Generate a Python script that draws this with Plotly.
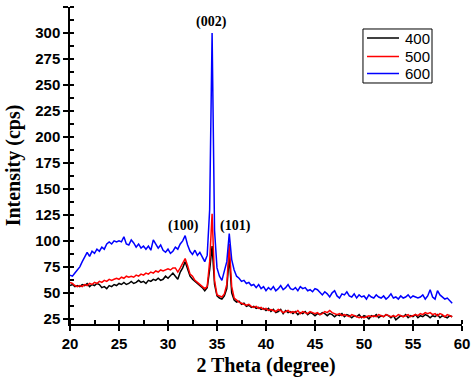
import plotly.graph_objects as go

two_theta = [
    20.00, 20.25, 20.50, 20.75, 21.00, 21.25, 21.50, 21.75, 22.00, 22.25, 22.50, 22.75,
    23.00, 23.25, 23.50, 23.75, 24.00, 24.25, 24.50, 24.75, 25.00, 25.25, 25.50, 25.75,
    26.00, 26.25, 26.50, 26.75, 27.00, 27.25, 27.50, 27.75, 28.00, 28.25, 28.50, 28.75,
    29.00, 29.25, 29.50, 29.75, 30.00, 30.25, 30.50, 30.75, 31.00, 31.25, 31.50, 31.75,
    32.00, 32.25, 32.50, 32.75, 33.00, 33.25, 33.50, 33.75, 34.00, 34.25, 34.50, 34.75,
    35.00, 35.25, 35.50, 35.75, 36.00, 36.25, 36.50, 36.75, 37.00, 37.25, 37.50, 37.75,
    38.00, 38.25, 38.50, 38.75, 39.00, 39.25, 39.50, 39.75, 40.00, 40.25, 40.50, 40.75,
    41.00, 41.25, 41.50, 41.75, 42.00, 42.25, 42.50, 42.75, 43.00, 43.25, 43.50, 43.75,
    44.00, 44.25, 44.50, 44.75, 45.00, 45.25, 45.50, 45.75, 46.00, 46.25, 46.50, 46.75,
    47.00, 47.25, 47.50, 47.75, 48.00, 48.25, 48.50, 48.75, 49.00, 49.25, 49.50, 49.75,
    50.00, 50.25, 50.50, 50.75, 51.00, 51.25, 51.50, 51.75, 52.00, 52.25, 52.50, 52.75,
    53.00, 53.25, 53.50, 53.75, 54.00, 54.25, 54.50, 54.75, 55.00, 55.25, 55.50, 55.75,
    56.00, 56.25, 56.50, 56.75, 57.00, 57.25, 57.50, 57.75, 58.00, 58.25, 58.50, 58.75,
    59.00,
]

intensity_400 = [
    57, 58, 56, 57, 56, 58, 57, 59, 56, 58, 57, 59,
    58, 55, 56, 54, 57, 56, 58, 57, 59, 58, 60, 58,
    59, 61, 59, 60, 62, 60, 61, 59, 62, 61, 63, 62,
    64, 62, 63, 66, 64, 67, 69, 66, 63, 70, 74, 80,
    73, 66, 63, 61, 59, 57, 55, 52, 55, 72, 95, 58,
    47, 45, 44, 47, 54, 85, 50, 43, 41, 42, 39, 40,
    37, 38, 36, 37, 35, 36, 34, 35, 33, 35, 32, 34,
    31, 32, 34, 30, 33, 31, 32, 30, 32, 29, 31, 30,
    32, 29, 31, 30, 28, 30, 29, 31, 30, 28, 30, 29,
    27, 29, 28, 30, 27, 29, 28, 26, 28, 27, 29, 26,
    28, 27, 25, 28, 27, 29, 26, 28, 27, 29, 28, 26,
    28, 24, 26, 28, 27, 29, 26, 28, 27, 29, 26, 28,
    27, 29, 28, 26, 28, 27, 29, 26, 28, 27, 26, 28,
    27,
]

intensity_500 = [
    60, 59, 57, 56, 57, 56, 58, 57, 59, 58, 60, 59,
    61, 60, 62, 61, 63, 62, 63, 64, 63, 65, 64, 66,
    65, 66, 65, 67, 66, 68, 67, 69, 68, 70, 69, 71,
    70, 72, 71, 72, 73, 72, 74, 74, 70, 74, 78, 83,
    76, 68, 66, 62, 60, 58, 56, 54, 56, 80, 126, 62,
    48, 47, 46, 49, 58, 97, 56, 45, 43, 41, 40, 39,
    38, 39, 37, 36, 37, 35, 36, 34, 35, 33, 34, 33,
    32, 34, 33, 31, 32, 33, 31, 32, 31, 33, 30, 32,
    31, 30, 32, 31, 30, 31, 29, 30, 32, 31, 33, 31,
    30, 29, 30, 28, 29, 28, 27, 29, 28, 27, 26, 27,
    26, 27, 28, 27, 28, 27, 29, 28, 27, 29, 28, 27,
    28, 27, 29, 28, 27, 28, 29, 27, 28, 29, 28, 30,
    29, 31, 30, 31, 29, 30, 28, 30, 29, 27, 29, 28,
    27,
]

intensity_600 = [
    67, 66, 69, 72, 75, 80, 84, 89, 85, 90, 88, 92,
    90, 94, 92, 97, 99, 97, 100, 99, 100, 99, 104, 97,
    96, 101, 98, 94, 97, 93, 95, 92, 95, 91, 101, 97,
    93, 96, 91, 89, 92, 88, 90, 94, 92, 97, 100, 105,
    96, 90, 87, 91, 86, 89, 84, 80, 86, 130, 300, 110,
    74, 66, 62, 70, 80, 107, 82, 72, 66, 64, 61, 62,
    59, 60, 57, 58, 55, 58, 54, 56, 52, 55, 53, 56,
    52, 54, 57, 53, 55, 58, 54, 53, 55, 52, 56, 54,
    55, 52, 53, 51, 54, 53, 50, 48, 51, 49, 46, 50,
    52, 47, 45, 49, 48, 51, 47, 46, 49, 45, 48, 46,
    47, 44, 48, 46, 45, 48, 46, 45, 47, 44, 46, 49,
    45, 46, 44, 47, 45, 46, 48, 45, 47, 46, 45, 46,
    48, 44, 47, 53, 46, 44, 52, 48, 46, 44, 45, 42,
    40,
]

series_names = ["400", "500", "600"]
series_colors = ["#000000", "#ff0000", "#0000ff"]
series_values = [intensity_400, intensity_500, intensity_600]

peak_labels = ["(002)", "(100)", "(101)"]
peak_x = [34.45, 31.55, 36.85]
peak_y = [311, 114, 114]

fig = go.Figure()
for name, color, vals in zip(series_names, series_colors, series_values):
    fig.add_trace(go.Scatter(
        x=two_theta, y=vals, mode="lines", name=name,
        line=dict(color=color, width=1.5), showlegend=False,
    ))

for lab, px, py in zip(peak_labels, peak_x, peak_y):
    fig.add_annotation(
        x=px, y=py, text=lab, showarrow=False,
        font=dict(family="Liberation Serif, Times New Roman, serif", size=14,
                  color="black", weight="bold"),
    )

# Custom compact legend (box, line samples and labels) in paper coordinates
leg_box = dict(x0=0.7474, x1=0.9235, y0=0.7603, y1=0.9306)
leg_line_x = (0.7577, 0.8393)
leg_text_x = 0.8495
leg_rows_y = [0.9022, 0.8438, 0.7902]
fig.add_shape(type="rect", xref="paper", yref="paper", **leg_box,
              line=dict(color="black", width=1), fillcolor="white", layer="above")
for name, color, ry in zip(series_names, series_colors, leg_rows_y):
    fig.add_shape(type="line", xref="paper", yref="paper",
                  x0=leg_line_x[0], x1=leg_line_x[1], y0=ry, y1=ry,
                  line=dict(color=color, width=1.5), layer="above")
    fig.add_annotation(xref="paper", yref="paper", x=leg_text_x, y=ry,
                       xanchor="left", yanchor="middle", text=name, showarrow=False,
                       font=dict(family="Liberation Sans, Arial, sans-serif", size=15,
                                 color="black"))

tick_font = dict(family="Liberation Sans, Arial, sans-serif", size=15,
                 color="black", weight="bold")
title_font = dict(family="Liberation Serif, Times New Roman, serif", size=20,
                  color="black", weight="bold")

fig.update_layout(
    width=474, height=388,
    margin=dict(l=70, r=12, t=7, b=64),
    paper_bgcolor="white", plot_bgcolor="white",
    showlegend=False,
    xaxis=dict(
        range=[20, 60], tick0=20, dtick=5, automargin=False,
        showline=True, linecolor="black", linewidth=1.5,
        ticks="outside", ticklen=5, tickwidth=1.5, tickcolor="black",
        minor=dict(ticks="inside", ticklen=4, tickwidth=1.5, tickcolor="black",
                   dtick=2.5, tick0=20),
        showgrid=False, zeroline=False,
        tickfont=tick_font,
        title=dict(text="2 Theta (degree)", font=title_font, standoff=7),
    ),
    yaxis=dict(
        range=[20, 325], tick0=25, dtick=25, automargin=False,
        showline=True, linecolor="black", linewidth=1.5,
        ticks="outside", ticklen=5, tickwidth=1.5, tickcolor="black",
        minor=dict(ticks="inside", ticklen=4, tickwidth=1.5, tickcolor="black",
                   dtick=12.5, tick0=25),
        showgrid=False, zeroline=False,
        tickfont=tick_font,
        title=dict(text="Intensity (cps)", font=title_font, standoff=9),
    ),
)

fig.write_html("out.html", config={"displayModeBar": False},
               post_script="document.body.style.margin='0';")
